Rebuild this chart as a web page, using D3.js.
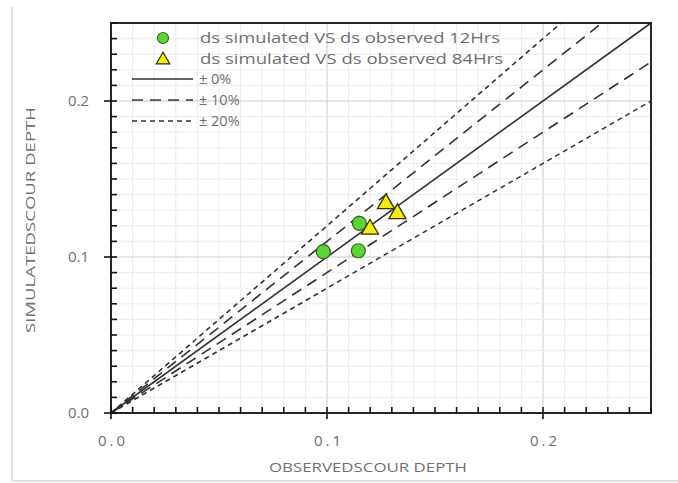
<!DOCTYPE html>
<html>
<head>
<meta charset="utf-8">
<script src="https://cdn.jsdelivr.net/npm/d3@7"></script>
<style>
  body { margin: 0; background: #fff; }
  text { font-family: "Open Sans", "Noto Sans", sans-serif; fill: #707070; }
</style>
</head>
<body>
<svg id="chart"></svg>
<script>
// --- Data ---
const series12 = [
  { obs: 0.0983, sim: 0.1034 },
  { obs: 0.1150, sim: 0.1216 },
  { obs: 0.1145, sim: 0.1040 }
];
const series84 = [
  { obs: 0.1273, sim: 0.1348 },
  { obs: 0.1326, sim: 0.1284 },
  { obs: 0.1199, sim: 0.1184 }
];
const bands = [
  { label: "± 0%", factor: [1.0], dash: null },
  { label: "± 10%", factor: [1.1, 0.9], dash: "11,7" },
  { label: "± 20%", factor: [1.2, 0.8], dash: "5,4" }
];
const majorTicks = [0, 0.1, 0.2];
const legendNames = ["ds simulated VS ds observed 12Hrs", "ds simulated VS ds observed 84Hrs"];

// --- Setup ---
const width = 678, height = 483;
const margin = { left: 111, right: 27, top: 23, bottom: 70 };
const svg = d3.select("#chart").attr("width", width).attr("height", height);

const x = d3.scaleLinear().domain([0, 0.25]).range([margin.left, width - margin.right]);
const y = d3.scaleLinear().domain([0, 0.25]).range([height - margin.bottom, margin.top]);

// outer frame (left + bottom edge of the picture)
svg.append("line").attr("x1", 12).attr("x2", 12).attr("y1", 7).attr("y2", 481)
  .attr("stroke", "#d8d8d8").attr("stroke-width", 1.5);
svg.append("line").attr("x1", 12).attr("x2", 678).attr("y1", 481).attr("y2", 481)
  .attr("stroke", "#d8d8d8").attr("stroke-width", 1.5);

const minor = d3.range(0, 26).map(i => i / 100);
const isMajor = d => majorTicks.some(m => Math.abs(m - d) < 1e-6);

// --- Grid ---
const grid = svg.append("g");
grid.selectAll(".gx").data(minor).enter().append("line")
  .attr("x1", d => x(d)).attr("x2", d => x(d))
  .attr("y1", y(0)).attr("y2", y(0.25))
  .attr("stroke", d => isMajor(d) ? "#c8c8c8" : "#ececec")
  .attr("stroke-width", 1);
grid.selectAll(".gy").data(minor).enter().append("line")
  .attr("y1", d => y(d)).attr("y2", d => y(d))
  .attr("x1", x(0)).attr("x2", x(0.25))
  .attr("stroke", d => isMajor(d) ? "#c8c8c8" : "#ececec")
  .attr("stroke-width", 1);

// --- Reference lines ---
const lines = svg.append("g");
bands.forEach(b => {
  b.factor.forEach(f => {
    const xEnd = Math.min(0.25, 0.25 / f);
    lines.append("line")
      .attr("x1", x(0)).attr("y1", y(0))
      .attr("x2", x(xEnd)).attr("y2", y(xEnd * f))
      .attr("stroke", "#333")
      .attr("stroke-width", 1.6)
      .attr("stroke-dasharray", b.dash);
  });
});

// --- Ticks (inside, major ones crossing the axis) ---
const ticks = svg.append("g").attr("stroke", "#111").attr("stroke-width", 1.6);
ticks.selectAll(".tx").data(minor).enter().append("line")
  .attr("x1", d => x(d)).attr("x2", d => x(d))
  .attr("y1", d => y(0) + (isMajor(d) ? 6 : 0)).attr("y2", y(0) - 6);
ticks.selectAll(".ty").data(minor).enter().append("line")
  .attr("y1", d => y(d)).attr("y2", d => y(d))
  .attr("x1", d => x(0) - (isMajor(d) ? 7 : 0)).attr("x2", x(0) + 6);

// plot border
svg.append("rect")
  .attr("x", x(0)).attr("y", y(0.25))
  .attr("width", x(0.25) - x(0)).attr("height", y(0) - y(0.25))
  .attr("fill", "none").attr("stroke", "#111").attr("stroke-width", 1.8);

// tick labels
svg.selectAll(".xl").data(majorTicks).enter().append("text")
  .attr("x", d => x(d) + 2).attr("y", 446)
  .attr("text-anchor", "middle").attr("font-size", 15)
  .attr("letter-spacing", 3)
  .text(d => d.toFixed(1));
svg.selectAll(".yl").data(majorTicks).enter().append("text")
  .attr("x", 89).attr("y", d => y(d) + 5)
  .attr("text-anchor", "end").attr("font-size", 15)
  .text(d => d.toFixed(1));

// axis titles
svg.append("text").attr("x", 368).attr("y", 472)
  .attr("text-anchor", "middle").attr("font-size", 13.5)
  .attr("textLength", 198).attr("lengthAdjust", "spacingAndGlyphs")
  .text("OBSERVEDSCOUR DEPTH");
svg.append("text")
  .attr("transform", `translate(35,220) rotate(-90)`)
  .attr("text-anchor", "middle").attr("font-size", 13.5)
  .attr("textLength", 226).attr("lengthAdjust", "spacingAndGlyphs")
  .text("SIMULATEDSCOUR DEPTH");

// --- Data points ---
const pts = svg.append("g");
pts.selectAll("circle").data(series12).enter().append("circle")
  .attr("cx", d => x(d.obs)).attr("cy", d => y(d.sim)).attr("r", 7)
  .attr("fill", "#5fd23a").attr("stroke", "#2e6b1a").attr("stroke-width", 1.2);
const tri = d3.symbol().type(d3.symbolTriangle).size(125);
pts.selectAll("path").data(series84).enter().append("path")
  .attr("d", tri)
  .attr("transform", d => `translate(${x(d.obs)},${y(d.sim) + 1})`)
  .attr("fill", "#f2ea1a").attr("stroke", "#3a3300").attr("stroke-width", 1.3);

// --- Legend ---
const legend = svg.append("g");
const rowY = [38, 59, 79, 100, 121];
legend.append("circle").attr("cx", 163).attr("cy", rowY[0]).attr("r", 5.5)
  .attr("fill", "#5fd23a").attr("stroke", "#2e6b1a").attr("stroke-width", 1.2);
legend.append("path").attr("d", d3.symbol().type(d3.symbolTriangle).size(80))
  .attr("transform", `translate(163,${rowY[1] + 1})`)
  .attr("fill", "#f2ea1a").attr("stroke", "#3a3300").attr("stroke-width", 1.2);
legendNames.forEach((n, i) => {
  legend.append("text").attr("x", 200).attr("y", rowY[i] + 5)
    .attr("font-size", 14.5)
    .attr("textLength", 300 + i * 3).attr("lengthAdjust", "spacingAndGlyphs")
    .text(n);
});
bands.forEach((b, i) => {
  const yy = rowY[i + 2];
  legend.append("line").attr("x1", 132).attr("x2", 193).attr("y1", yy).attr("y2", yy)
    .attr("stroke", "#333").attr("stroke-width", 1.5)
    .attr("stroke-dasharray", b.dash);
  legend.append("text").attr("x", 199).attr("y", yy + 5)
    .attr("font-size", 14.5)
    .text(b.label);
});
</script>
</body>
</html>
